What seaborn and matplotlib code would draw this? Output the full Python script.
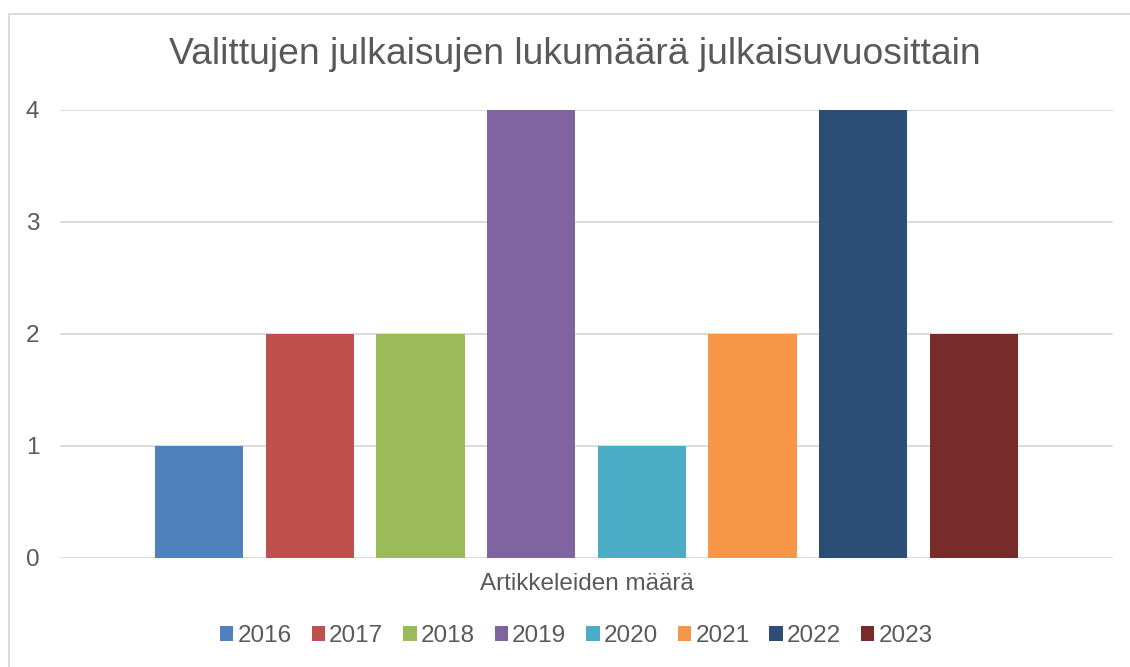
import matplotlib
matplotlib.use("Agg")
import matplotlib.pyplot as plt
from matplotlib.patches import Rectangle
import pandas as pd
import seaborn as sns

category = ["Artikkeleiden määrä"]
years = ["2016", "2017", "2018", "2019", "2020", "2021", "2022", "2023"]
counts = [1, 2, 2, 4, 1, 2, 4, 2]
colors = ["#4F81BD", "#C0504D", "#9BBB59", "#8064A2",
          "#4BACC6", "#F79646", "#2C4D75", "#772C2A"]
title = "Valittujen julkaisujen lukumäärä julkaisuvuosittain"

frame = pd.DataFrame({"category": category * len(years),
                      "year": years, "count": counts})

sns.set_style("white")
plt.rcParams["font.family"] = ["Liberation Sans", "DejaVu Sans"]
text_col = "#595959"
grid_col = "#D9D9D9"
fs = 17.5

fig = plt.figure(figsize=(11.3, 6.67), dpi=100)
ax = fig.add_axes([60 / 1130, 1 - 558 / 667, 1053 / 1130, 448 / 667])

sns.barplot(data=frame, x="category", y="count", hue="year",
            palette=colors, width=0.841, gap=0.204, saturation=1,
            linewidth=0, errorbar=None, ax=ax)

ax.set_xlim(-0.5, 0.5)
ax.set_ylim(0, 4)
ax.set_yticks([0, 1, 2, 3, 4])
ax.yaxis.grid(True, color=grid_col, lw=1.3)
ax.set_axisbelow(True)
for s in ax.spines.values():
    s.set_visible(False)
ax.tick_params(axis="y", length=0, pad=15, labelsize=fs, labelcolor=text_col)
ax.tick_params(axis="x", length=0, pad=11, labelsize=fs, labelcolor=text_col)
ax.set_xlabel("")
ax.set_ylabel("")

handles, labels = ax.get_legend_handles_labels()
ax.legend_.remove()
fig.legend(handles, labels, ncol=8, loc="center", bbox_to_anchor=(0.51, 1 - 636 / 667),
           frameon=False, fontsize=fs, handlelength=0.55, handleheight=0.55,
           handletextpad=0.17, columnspacing=0.82, labelcolor=text_col)

fig.text(0.509, 1 - 55 / 667, title, ha="center", va="center",
         fontsize=26.8, color=text_col)

fig.patches.append(Rectangle((9 / 1130, -0.1), 1.2, 1.1 - 14 / 667,
                             transform=fig.transFigure, fill=False,
                             edgecolor=grid_col, lw=1.3))

fig.savefig("out.png", dpi=100)
